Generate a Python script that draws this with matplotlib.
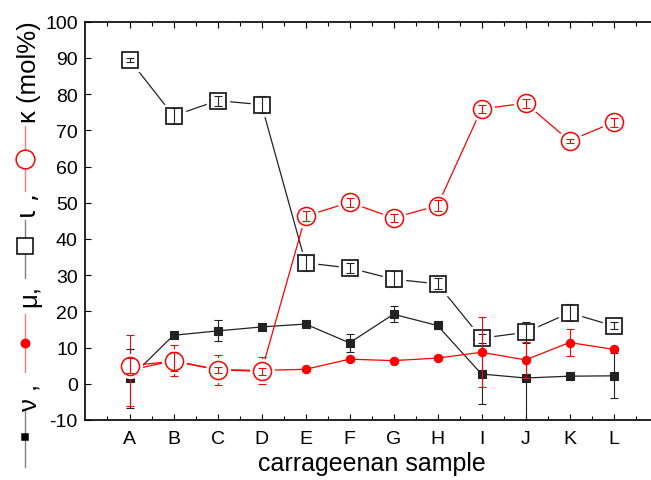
import matplotlib
matplotlib.use("Agg")
import matplotlib.pyplot as plt
from matplotlib.lines import Line2D
import numpy as np

plt.rcParams["font.family"] = ["Liberation Sans", "DejaVu Sans"]
plt.rcParams["axes.unicode_minus"] = False

# Carrageenan composition per sample (mol%)
samples = ["A", "B", "C", "D", "E", "F", "G", "H", "I", "J", "K", "L"]
nu = [1.5, 13.4, 14.6, 15.7, 16.5, 11.3, 19.2, 16.1, 2.7, 1.6, 2.1, 2.2]
nu_err = [8.1, 0.6, 2.9, 0.5, 0.4, 2.4, 2.2, 1.0, 8.4, 14.0, 0.5, 6.2]
mu = [3.7, 6.4, 3.9, 3.7, 4.0, 6.8, 6.4, 7.1, 8.7, 6.6, 11.4, 9.5]
mu_err = [9.9, 4.3, 4.1, 3.8, 0.4, 0.5, 0.5, 0.5, 9.7, 4.9, 3.7, 0.5]
iota = [89.5, 74.0, 78.2, 77.1, 33.4, 32.0, 28.9, 27.6, 12.6, 14.2, 19.6, 16.0]
iota_err = [0.5, 2.3, 1.4, 2.3, 2.3, 1.4, 2.3, 1.5, 1.2, 3.0, 2.3, 1.0]
kappa = [5.0, 6.2, 3.9, 3.4, 46.3, 50.1, 45.8, 49.2, 75.9, 77.5, 67.1, 72.2]
kappa_err = [2.0, 2.7, 0.8, 1.0, 1.3, 1.3, 1.2, 1.6, 1.1, 1.2, 0.5, 1.3]

W, H = 651, 481
fig = plt.figure(figsize=(W / 100, H / 100), dpi=100)
ax = fig.add_axes([85.5 / W, 60 / H, 572 / W, 398.3 / H])

x = np.arange(1, len(samples) + 1)

BLACK = "#222222"
RED = "#ff0000"


def series(y, err, color, marker, ms, mfc, mew, z):
    ax.plot(x, y, color=color, lw=0.9, zorder=z)
    if mfc == "white":
        # white halo so the connecting lines stop short of open markers
        ax.plot(x, y, ls="none", marker=marker, ms=ms + 4, mfc="white",
                mec="white", zorder=z + 0.1)
    ax.plot(x, y, ls="none", marker=marker, ms=ms, mfc=mfc, mec=color,
            mew=mew, zorder=z + 0.2)
    ax.errorbar(x, y, yerr=err, fmt="none", ecolor=color, elinewidth=0.8,
                capsize=2.6, capthick=0.8, zorder=z + 0.3)


series(nu, nu_err, BLACK, "s", 5.5, BLACK, 0.8, 2)
series(iota, iota_err, BLACK, "s", 12.2, "white", 1.3, 3)
series(mu, mu_err, RED, "o", 6.0, RED, 0.8, 4)
series(kappa, kappa_err, RED, "o", 13.0, "white", 1.1, 5)

ax.set_xlim(0, 13)
ax.set_ylim(-10, 100)
ax.set_xticks(x)
ax.set_xticklabels(samples)
ax.set_xticks(np.arange(0.5, 13, 1.0), minor=True)
ax.set_yticks(np.arange(-10, 101, 10))

for s in ax.spines.values():
    s.set_linewidth(1.2)
ax.tick_params(which="both", direction="in", top=True, right=True,
               labelsize=14, width=0.8)
ax.tick_params(which="major", length=4.4)
ax.tick_params(which="minor", length=2.7)
ax.tick_params(axis="x", pad=7)
ax.tick_params(axis="y", pad=5.5)

ax.set_xlabel("carrageenan sample", fontsize=18, labelpad=3)


# Composite y-axis label: line/marker keys interleaved with text
def fx(px):
    return px / W


def fy(py):
    return 1 - py / H


def key(y0, y1, ym, color, marker, ms, mfc, lcolor):
    fig.add_artist(Line2D([fx(25), fx(25)], [fy(y0), fy(y1)],
                          transform=fig.transFigure, color=lcolor, lw=1.0))
    fig.add_artist(Line2D([fx(25)], [fy(ym)], transform=fig.transFigure,
                          ls="none", marker=marker, ms=ms, mfc=mfc,
                          mec=color, mew=1.1))


def label(ystart, s, family=None):
    kw = {"family": family} if family else {}
    fig.text(fx(36), fy(ystart), s, rotation=90, rotation_mode="anchor",
             ha="left", va="baseline", fontsize=18.5, **kw)


key(468, 410, 438, "black", "s", 5.0, "black", "#808080")
label(411, "ν ,")
key(373, 315, 344, RED, "o", 6.0, RED, "#ff7a7a")
label(307, "μ,")
key(279, 221, 247, "black", "s", 11.5, "white", "#808080")
label(218, "ι ,", family=["DejaVu Sans"])
key(192, 127, 160, RED, "o", 13.5, "white", "#ff7a7a")
label(123, "κ (mol%)")

fig.savefig("out.png", dpi=100)
